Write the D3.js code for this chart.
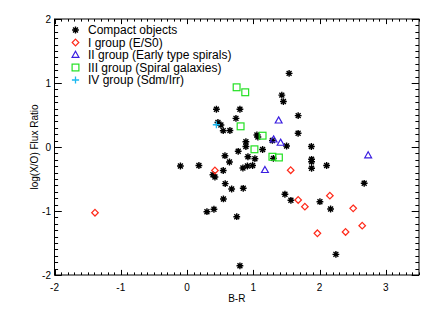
<!DOCTYPE html>
<html><head><meta charset="utf-8">
<script src="https://cdn.jsdelivr.net/npm/d3@7"></script>
<style>body{margin:0;background:#fff}svg{display:block}text{font-family:"Liberation Sans",Arial,sans-serif;fill:#000}</style>
</head><body><div id="chart"></div>
<script>
// Compact objects [B-R, log(X/O)]
const compactX = [1.54,1.43,1.454,0.443,0.798,1.677,0.738,0.466,0.511,0.546,0.647,1.676,1.054,1.069,1.288,0.888,0.888,1.502,1.876,1.140,0.772,0.572,0.919,1.024,1.303,1.879,1.879,2.106,-0.100,0.179,0.640,0.546,0.843,0.911,0.989,1.879,0.391,0.421,0.576,0.673,0.848,0.549,0.300,0.406,0.750,1.477,1.567,2.005,2.166,2.673,2.246,0.798];
const compactY = [1.15,0.81,0.71,0.59,0.59,0.49,0.448,0.383,0.344,0.255,0.258,0.214,0.188,0.156,0.102,0.083,0.008,0.016,0.008,-0.039,-0.067,-0.136,-0.152,-0.183,-0.177,-0.192,-0.23,-0.289,-0.297,-0.289,-0.234,-0.367,-0.328,-0.297,-0.289,-0.333,-0.433,-0.469,-0.573,-0.656,-0.645,-0.812,-1.011,-0.973,-1.089,-0.738,-0.833,-0.855,-0.969,-0.567,-1.677,-1.856];
// I group (E/S0)
const group1X = [-1.389,0.421,1.564,1.677,1.778,2.155,2.507,1.967,2.392,2.643];
const group1Y = [-1.027,-0.367,-0.363,-0.828,-0.933,-0.761,-0.958,-1.348,-1.328,-1.23];
// II group (Early type spirals)
const group2X = [1.382,1.306,1.412,1.175,2.733];
const group2Y = [0.411,0.114,0.063,-0.363,-0.133];
// III group (Spiral galaxies)
const group3X = [0.748,0.878,0.808,1.140,1.017,1.288,1.386];
const group3Y = [0.933,0.855,0.323,0.177,-0.036,-0.152,-0.164];
// IV group (Sdm/Irr)
const group4X = [0.443];
const group4Y = [0.348];

const xTicks = [-2,-1,0,1,2,3];
const yTicks = [-2,-1,0,1,2];
const legendLabels = ["Compact objects","I group (E/S0)","II group (Early type spirals)","III group (Spiral galaxies)","IV group (Sdm/Irr)"];

const W=436,H=312;
const svg=d3.select("#chart").append("svg").attr("width",W).attr("height",H);
const x=d3.scaleLinear().domain([-2,3.5]).range([54.5,419]);
const y=d3.scaleLinear().domain([-2,2]).range([275,19]);

const colors={c:"#000",g1:"#ff2a1a",g2:"#3a1ee0",g3:"#22e022",g4:"#1ab8f0"};

// Axes box with ticks on all sides (inward)
const minorX=d3.range(-2,3.5001,0.1).map(v=>+v.toFixed(2));
const minorY=d3.range(-2,2.0001,0.1).map(v=>+v.toFixed(2));
const ax=svg.append("g").attr("stroke","#000").attr("stroke-width",1).attr("fill","none");
ax.append("rect").attr("x",x(-2)).attr("y",y(2)).attr("width",x(3.5)-x(-2)).attr("height",y(-2)-y(2));
const isMajor=v=>Math.abs(v-Math.round(v))<1e-6;
minorX.forEach(v=>{const L=isMajor(v)?5.1:2.6;const px=Math.round(x(v))+0.5;
  ax.append("line").attr("x1",px).attr("x2",px).attr("y1",y(-2)).attr("y2",y(-2)-L);
  ax.append("line").attr("x1",px).attr("x2",px).attr("y1",y(2)).attr("y2",y(2)+L);});
minorY.forEach(v=>{const L=isMajor(v)?7.3:3.6;const py=Math.round(y(v))+0.5;
  ax.append("line").attr("x1",x(-2)).attr("x2",x(-2)+L).attr("y1",py).attr("y2",py);
  ax.append("line").attr("x1",x(3.5)).attr("x2",x(3.5)-L).attr("y1",py).attr("y2",py);});

svg.append("g").selectAll("text").data(xTicks).join("text")
  .attr("x",d=>x(d)).attr("y",291).attr("text-anchor","middle").attr("font-size",10).text(d=>d);
svg.append("g").selectAll("text").data(yTicks).join("text")
  .attr("x",51).attr("y",d=>y(d)+3.6).attr("text-anchor","end").attr("font-size",10).text(d=>d);
svg.append("text").attr("x",(x(-2)+x(3.5))/2).attr("y",302).attr("text-anchor","middle").attr("font-size",10).text("B-R");
svg.append("text").attr("transform",`translate(38,${y(0)}) rotate(-90)`).attr("text-anchor","middle").attr("font-size",10).text("log(X/O) Flux Ratio");

// marker drawers
function star(g,cx,cy){const r=3.4,d=r*0.72;
  g.append("path").attr("d",`M${cx-r},${cy}H${cx+r}M${cx},${cy-r}V${cy+r}M${cx-d},${cy-d}L${cx+d},${cy+d}M${cx-d},${cy+d}L${cx+d},${cy-d}`)
   .attr("stroke",colors.c).attr("stroke-width",1.4).attr("fill","none");}
function diamond(g,cx,cy){const r=3.3;
  g.append("path").attr("d",`M${cx},${cy-r}L${cx+r},${cy}L${cx},${cy+r}L${cx-r},${cy}Z`).attr("stroke",colors.g1).attr("stroke-width",1.2).attr("fill","none");}
function tri(g,cx,cy){const r=3.8;
  g.append("path").attr("d",`M${cx},${cy-r}L${cx+r*0.9},${cy+r*0.6}L${cx-r*0.9},${cy+r*0.6}Z`).attr("stroke",colors.g2).attr("stroke-width",1.2).attr("fill","none");}
function sq(g,cx,cy){const r=3.4;
  g.append("rect").attr("x",cx-r).attr("y",cy-r).attr("width",2*r).attr("height",2*r).attr("stroke",colors.g3).attr("stroke-width",1.2).attr("fill","none");}
function plus(g,cx,cy){const r=3.6;
  g.append("path").attr("d",`M${cx-r},${cy}H${cx+r}M${cx},${cy-r}V${cy+r}`).attr("stroke",colors.g4).attr("stroke-width",1.3).attr("fill","none");}

const pts=svg.append("g");
compactX.forEach((v,i)=>star(pts,x(v),y(compactY[i])));
group1X.forEach((v,i)=>diamond(pts,x(v),y(group1Y[i])));
group2X.forEach((v,i)=>tri(pts,x(v),y(group2Y[i])));
group3X.forEach((v,i)=>sq(pts,x(v),y(group3Y[i])));
group4X.forEach((v,i)=>plus(pts,x(v),y(group4Y[i])));

// legend
const lg=svg.append("g");
const drawers=[star,diamond,tri,sq,plus];
const rowY=[30,42.5,55,67.5,80];
legendLabels.forEach((t,i)=>{drawers[i](lg,75.5,rowY[i]);
  lg.append("text").attr("x",88).attr("y",rowY[i]+4.3).attr("font-size",12).text(t);});
</script></body></html>
